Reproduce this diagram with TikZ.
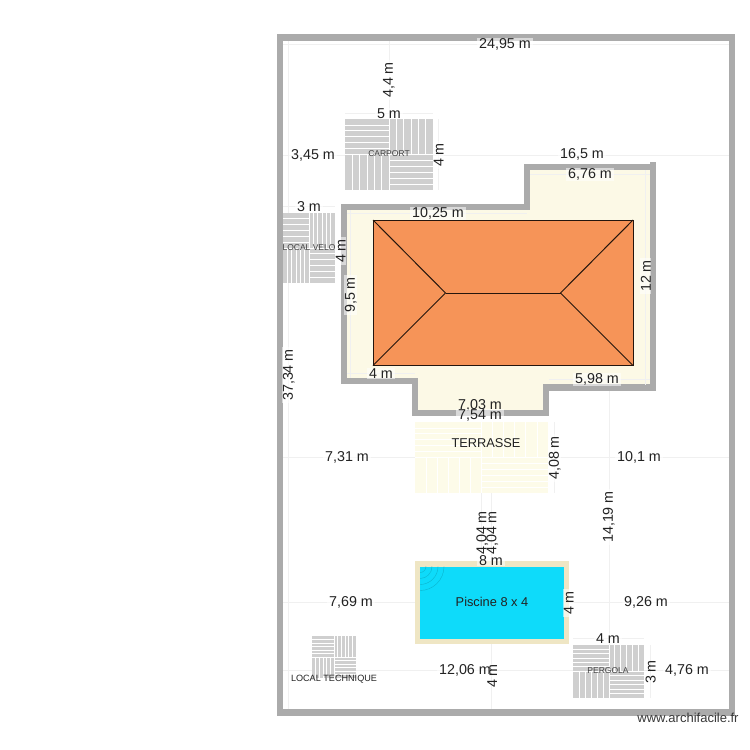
\documentclass[tikz,border=0pt]{standalone}
\usepackage{fontspec}
\setmainfont{Liberation Sans}
\definecolor{wallgray}{HTML}{ABABAB}
\definecolor{faintline}{HTML}{F0F0F0}
\definecolor{floorcream}{HTML}{FCF9E6}
\definecolor{roofocre}{HTML}{F69458}
\definecolor{poolblue}{HTML}{0EDBFA}
\definecolor{poolrim}{HTML}{EFE6C4}
\definecolor{deckgray}{HTML}{CFCFCF}
\definecolor{deckcream}{HTML}{FDFBE9}
\definecolor{labelink}{HTML}{222222}
\tikzset{
  wall/.style = {draw=wallgray, line width=6.3pt, line join=miter},
  faint/.style = {draw=faintline, line width=0.8pt},
  dimbase/.style = {font=\fontsize{14.3}{16}\selectfont, text=labelink, fill=white, fill opacity=0.55, text opacity=1, inner xsep=2pt, inner ysep=0.5pt},
  dimlabel/.style = {dimbase, yshift=-0.8pt},
  dimup/.style = {dimbase, rotate=90, yshift=-0.8pt},
  decklabel/.style = {font=\fontsize{8.5}{10}\selectfont, text=labelink!85, inner sep=0pt},
  sitelabel/.style = {font=\fontsize{12.8}{14}\selectfont, text=labelink, inner sep=0pt, yshift=-0.8pt},
}
\newcommand{\slatsacross}[5]{
  \fill[#5] (#1,#2) rectangle (#3,#4);
  \foreach \i in {1,...,5} {
    \pgfmathsetmacro{\slaty}{#2+\i*(#4-#2)/6}
    \draw[white, line width=0.8pt] (#1,\slaty) -- (#3,\slaty);
  }
}
\newcommand{\slatsdown}[5]{
  \fill[#5] (#1,#2) rectangle (#3,#4);
  \foreach \i in {1,...,5} {
    \pgfmathsetmacro{\slatx}{#1+\i*(#3-#1)/6}
    \draw[white, line width=0.8pt] (\slatx,#2) -- (\slatx,#4);
  }
}
\newcommand{\parquet}[7]{
  \slatsacross{#1}{#2}{#3}{#4}{#7}
  \slatsdown{#3}{#2}{#5}{#4}{#7}
  \slatsdown{#1}{#4}{#3}{#6}{#7}
  \slatsacross{#3}{#4}{#5}{#6}{#7}
  \draw[white, line width=0.8pt] (#3,#2) -- (#3,#6);
  \draw[white, line width=0.8pt] (#1,#4) -- (#5,#4);
}
\begin{document}
\begin{tikzpicture}[x=1pt, y=-1pt]
  \useasboundingbox (0,0) rectangle (750,750);
  \fill[white] (0,0) rectangle (750,750);

  \draw[faint] (283,44) -- (729,44);
  \draw[faint] (389,41) -- (389,119);
  \draw[faint] (345,113) -- (433,113);
  \draw[faint] (283,155) -- (345,155);
  \draw[faint] (433,155) -- (729,155);
  \draw[faint] (438,119) -- (438,190);
  \draw[faint] (283,206) -- (335,206);
  \draw[faint] (288,41) -- (288,709);
  \draw[faint] (283,457) -- (415,457);
  \draw[faint] (548,457) -- (729,457);
  \draw[faint] (554,422) -- (554,493);
  \draw[faint] (609,390) -- (609,645);
  \draw[faint] (481.5,493) -- (481.5,561);
  \draw[faint] (491.5,493) -- (491.5,561);
  \draw[faint] (283,602) -- (415,602);
  \draw[faint] (569,602) -- (729,602);
  \draw[faint] (283,670) -- (573,670);
  \draw[faint] (644,670) -- (729,670);
  \draw[faint] (491.5,644) -- (491.5,709);
  \draw[faint] (573,638) -- (644,638);
  \draw[faint] (650,645) -- (650,698);

  \parquet{345}{119}{389}{154.5}{433}{190}{deckgray}
  \parquet{283}{213}{309}{248}{335}{283}{deckgray}
  \parquet{415}{422}{481.5}{457.5}{548}{493}{deckcream}
  \parquet{312}{636}{334}{657}{356}{678}{deckgray}
  \parquet{573}{645}{609}{671}{644}{698}{deckgray}

  \draw[wall] (280,37.5) rectangle (732,712.5);

  \draw[wall, fill=floorcream] (344,207) -- (527,207) -- (527,167) -- (653,167) -- (653,387.5)
    -- (546,387.5) -- (546,413) -- (415,413) -- (415,381) -- (344,381) -- cycle;
  \draw[wall] (653,170) -- (653,162);
  \draw[faint] (347,213) -- (527,213);
  \draw[faint] (530,174) -- (650,174);
  \draw[faint] (350,210) -- (350,378);
  \draw[faint] (645,170) -- (645,385);
  \draw[faint] (347,373) -- (415,373);
  \draw[faint] (549,379) -- (650,379);

  \draw[line width=1pt, draw=black!85!roofocre, fill=roofocre] (373,220) rectangle (633,365.5);
  \draw[line width=1pt, draw=black!85!roofocre] (373,220) -- (445.5,293) -- (373,365.5);
  \draw[line width=1pt, draw=black!85!roofocre] (633,220) -- (560.5,293) -- (633,365.5);
  \draw[line width=1pt, draw=black!85!roofocre] (445.5,293) -- (560.5,293);

  \fill[poolrim] (414.5,561) rectangle (569,644);
  \fill[poolblue] (420,566.5) rectangle (564,638.5);
  \begin{scope}
    \clip (420,566.5) rectangle (564,638.5);
    \foreach \r in {6,12,18,24} {
      \draw[poolblue!70!black, line width=0.4pt, opacity=0.6] (420,566.5) circle (\r pt);
    }
  \end{scope}

  \node[dimlabel] (sitewidth) at (505,44) {24,95 m};
  \node[dimup] (carportgap) at (388,80) {4,4 m};
  \node[dimlabel] (carportwidth) at (389,113) {5 m};
  \node[dimlabel] (carportleft) at (313,155) {3,45 m};
  \node[decklabel] (carport) at (389,154) {CARPORT};
  \node[dimup] (carportdepth) at (438,155) {4 m};
  \node[dimlabel] (houseright) at (582,154) {16,5 m};
  \node[dimlabel] (wingwidth) at (590,174) {6,76 m};
  \node[dimlabel] (velowidth) at (309,206) {3 m};
  \node[dimlabel] (mainwidth) at (438,213) {10,25 m};
  \node[dimup] (velodepth) at (340,251) {4 m};
  \node[decklabel] (velo) at (309,248) {LOCAL VELO};
  \node[dimup] (maindepth) at (350,295) {9,5 m};
  \node[dimup] (housedepth) at (645,276) {12 m};
  \node[dimlabel] (leftreturn) at (381,373) {4 m};
  \node[dimlabel] (rightreturn) at (597,379) {5,98 m};
  \node[dimlabel, fill opacity=0] (frontinner) at (480,405) {7,03 m};
  \node[dimlabel] (frontouter) at (480,415) {7,54 m};
  \node[sitelabel] (terrasse) at (486,442) {TERRASSE};
  \node[dimup] (terrassedepth) at (554,458) {4,08 m};
  \node[dimlabel] (terrasseleft) at (347,457) {7,31 m};
  \node[dimlabel] (terrasseright) at (639,457) {10,1 m};
  \node[dimup] (sideoffset) at (608,517) {14,19 m};
  \node[dimup, fill opacity=0] (gapleft) at (481.5,533) {4,04 m};
  \node[dimup, fill opacity=0] (gapright) at (491.5,533) {4,04 m};
  \node[dimlabel] (poolwidth) at (491,560) {8 m};
  \node[sitelabel] (piscine) at (492,601) {Piscine 8 x 4};
  \node[dimup] (pooldepth) at (568,603) {4 m};
  \node[dimlabel] (poolleft) at (351,602) {7,69 m};
  \node[dimlabel] (poolright) at (646,602) {9,26 m};
  \node[dimlabel] (pergolawidth) at (608,638) {4 m};
  \node[dimlabel] (pergolaleft) at (465,670) {12,06 m};
  \node[dimup, fill opacity=0] (poolback) at (491.5,676) {4 m};
  \node[dimup, fill opacity=0] (pergoladepth) at (650,672) {3 m};
  \node[dimlabel] (pergolaright) at (687,670) {4,76 m};
  \node[decklabel] (pergola) at (608,671) {PERGOLA};
  \node[decklabel, font=\fontsize{9.1}{11}\selectfont, text=labelink] (technique) at (334,679) {LOCAL TECHNIQUE};
  \node[dimup] (sitedepth) at (288,375) {37,34 m};
  \node[sitelabel, font=\fontsize{13}{15}\selectfont, text=labelink!90] (brand) at (688,717) {www.archifacile.fr};
\end{tikzpicture}
\end{document}
